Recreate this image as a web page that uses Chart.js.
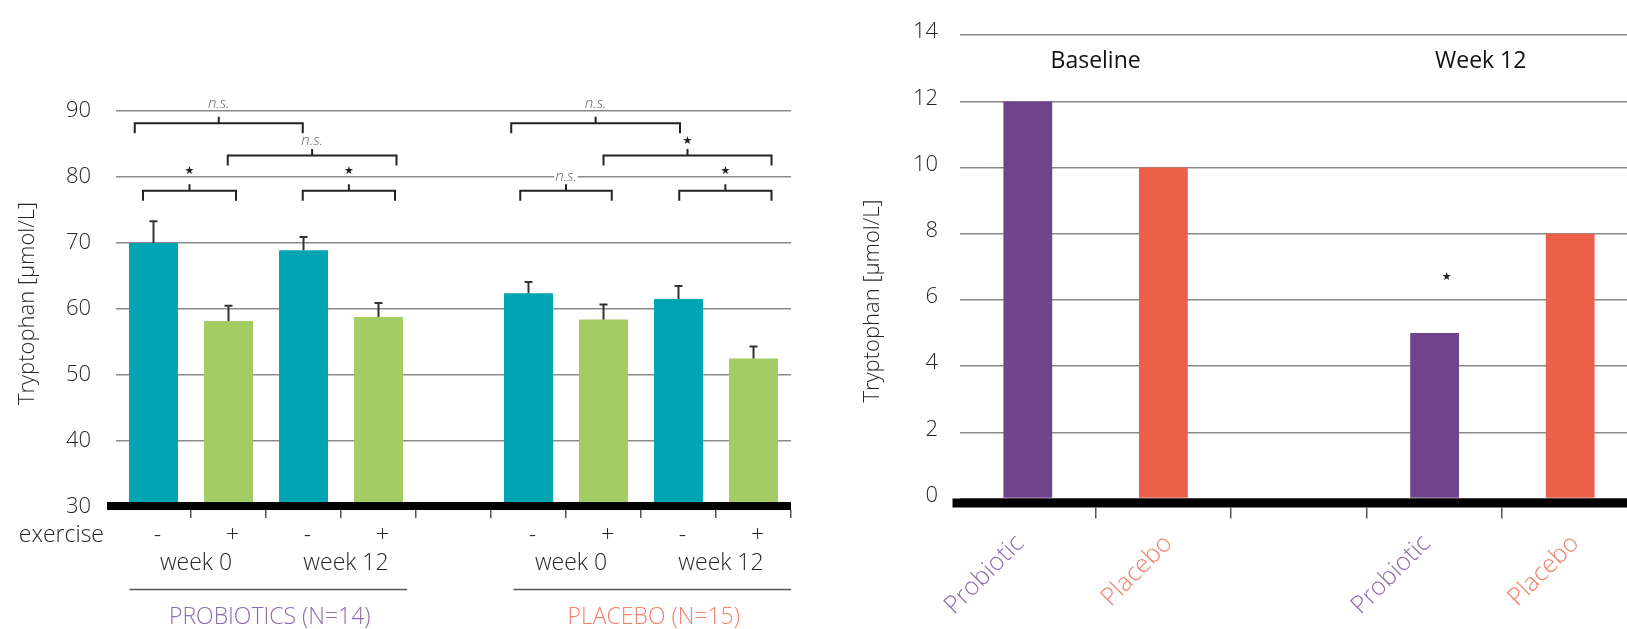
<!DOCTYPE html>
<html><head><meta charset="utf-8">
<script src="https://cdn.jsdelivr.net/npm/chart.js@4.4.1/dist/chart.umd.min.js"></script>
<style>
html,body{margin:0;padding:0;background:#fff;overflow:hidden;width:1627px;height:629px;position:relative;}
#c1{position:absolute;left:0;top:0;}
#c2{position:absolute;left:830px;top:0;}
</style></head><body>
<canvas id="c1" width="830" height="629"></canvas>
<canvas id="c2" width="820" height="629"></canvas>
<script>
// ---------- data: left chart ----------
const leftCategories = ['PRO w0 -', 'PRO w0 +', 'PRO w12 -', 'PRO w12 +', '', 'PLA w0 -', 'PLA w0 +', 'PLA w12 -', 'PLA w12 +'];
const leftMeans  = [70.0, 58.2, 68.9, 58.8, null, 62.4, 58.4, 61.5, 52.5];
const leftErrors = [3.3, 2.3, 2.0, 2.1, null, 1.7, 2.3, 2.0, 1.8];
const exerciseLabels = ['-', '+', '-', '+', '', '-', '+', '-', '+'];
const weekLabels = ['week 0', 'week 12', 'week 0', 'week 12'];
const weekLabelAt = [0.5, 2.5, 5.5, 7.5];
const groupLabels = ['PROBIOTICS (N=14)', 'PLACEBO (N=15)'];
const groupLabelAt = [1.55, 6.67];
const groupLineFrom = [-0.32, 4.80];
const groupLineTo = [3.38, 8.5];
const leftTicks = [30, 40, 50, 60, 70, 80, 90];
// significance brackets: category span, bracket level, label, label level
const bracketFrom  = [-0.25, 0.99, -0.14, 1.99, 4.77, 6.00, 4.89, 7.01];
const bracketTo    = [1.99, 3.24, 1.10, 3.22, 7.02, 8.24, 6.11, 8.24];
const bracketLevel = [88.15, 83.25, 77.9, 77.9, 88.15, 83.25, 77.9, 77.9];
const bracketText  = ['n.s.', 'n.s.', '★', '★', 'n.s.', '★', 'n.s.', '★'];
const bracketTextLevel = [91.05, 85.45, 80.95, 80.95, 91.05, 85.45, 80.0, 80.95];

// ---------- data: right chart ----------
const rightCategories = ['Probiotic', 'Placebo', '', 'Probiotic', 'Placebo'];
const rightValues = [12, 10, null, 5, 8];
const rightTicks = [0, 2, 4, 6, 8, 10, 12, 14];
const periodLabels = ['Baseline', 'Week 12'];
const periodLabelAt = [0.5, 3.34];
const periodLabelLevel = 13.2;
const rightStarAt = 3.09;
const rightStarLevel = 6.7;

// ---------- styles ----------
const TEAL = '#00a5b4', GREEN = '#a3cd62', PURPLE = '#6f448b', SALMON = '#ec604a';
const PURPLE_TXT = '#8e6bb0', SALMON_TXT = '#f27f6b';
const FONT = '"Open Sans", "Noto Sans", sans-serif';
const TXT = '#262626';

function lightFont(size) { return '300 ' + size + 'px ' + FONT; }

const leftPlugin = {
  id: 'leftDeco',
  afterDatasetsDraw(chart) {
    const ctx = chart.ctx, xs = chart.scales.x, ys = chart.scales.y, area = chart.chartArea;
    const meta = chart.getDatasetMeta(0);
    ctx.save();
    // error bars
    ctx.strokeStyle = '#333'; ctx.lineWidth = 2;
    leftMeans.forEach((v, i) => {
      if (v == null) return;
      const bx = meta.data[i].x;
      const y1 = ys.getPixelForValue(v), y2 = ys.getPixelForValue(v + leftErrors[i]);
      ctx.beginPath(); ctx.moveTo(bx, y1); ctx.lineTo(bx, y2);
      ctx.moveTo(bx - 4, y2); ctx.lineTo(bx + 4, y2); ctx.stroke();
    });
    // thick baseline
    const y0 = ys.getPixelForValue(leftTicks[0]) - 1;
    ctx.fillStyle = '#000';
    ctx.fillRect(area.left - 9, y0 - 4, area.right - area.left + 9, 8);
    // tick marks at category boundaries
    ctx.strokeStyle = '#555'; ctx.lineWidth = 1.5;
    for (let i = 0; i < leftCategories.length; i++) {
      const tx = Math.round(xs.getPixelForValue(i + 0.5)) - 0.25;
      ctx.beginPath(); ctx.moveTo(tx, y0 + 4); ctx.lineTo(tx, y0 + 12); ctx.stroke();
    }
    // exercise labels
    ctx.fillStyle = TXT; ctx.font = lightFont(23); ctx.textBaseline = 'middle';
    ctx.textAlign = 'right';
    ctx.fillText('exercise', 104, 535);
    ctx.textAlign = 'center';
    exerciseLabels.forEach((t, i) => { if (t) ctx.fillText(t, xs.getPixelForValue(i) + 4, 535); });
    weekLabels.forEach((t, i) => ctx.fillText(t, xs.getPixelForValue(weekLabelAt[i]) + 5, 563));
    // group lines + labels
    ctx.strokeStyle = '#555'; ctx.lineWidth = 1.5;
    groupLabels.forEach((t, i) => {
      ctx.beginPath();
      ctx.moveTo(xs.getPixelForValue(groupLineFrom[i]), 589.5);
      ctx.lineTo(xs.getPixelForValue(groupLineTo[i]), 589.5);
      ctx.stroke();
      ctx.fillStyle = i === 0 ? PURPLE_TXT : SALMON_TXT;
      ctx.fillText(t, xs.getPixelForValue(groupLabelAt[i]), 617);
    });
    // y title
    ctx.save();
    ctx.translate(28, 303.5); ctx.rotate(-Math.PI / 2);
    ctx.fillStyle = TXT; ctx.font = lightFont(22);
    ctx.fillText('Tryptophan [µmol/L]', 0, 0);
    ctx.restore();
    // brackets
    ctx.strokeStyle = '#222'; ctx.lineWidth = 2;
    bracketFrom.forEach((f, i) => {
      const xa = xs.getPixelForValue(f), xb = xs.getPixelForValue(bracketTo[i]);
      const yb = ys.getPixelForValue(bracketLevel[i]);
      const xm = (xa + xb) / 2;
      ctx.beginPath();
      ctx.moveTo(xa, yb + 10); ctx.lineTo(xa, yb); ctx.lineTo(xb, yb); ctx.lineTo(xb, yb + 10);
      ctx.moveTo(xm, yb); ctx.lineTo(xm, yb - 6.5);
      ctx.stroke();
      const ty = ys.getPixelForValue(bracketTextLevel[i]);
      if (bracketText[i] === 'n.s.') {
        ctx.font = 'italic 300 15px ' + FONT;
        const w = ctx.measureText('n.s.').width;
        ctx.fillStyle = '#fff';
        ctx.fillRect(xm - w / 2 - 1, ty - 3, w + 2, 6);
        ctx.fillStyle = '#666';
        ctx.fillText('n.s.', xm, ty);
      } else {
        ctx.font = '11px "DejaVu Sans", sans-serif';
        ctx.fillStyle = '#222';
        ctx.fillText('★', xm, ty);
      }
    });
    ctx.restore();
  }
};

new Chart(document.getElementById('c1'), {
  type: 'bar',
  data: {
    labels: leftCategories,
    datasets: [{
      data: leftMeans,
      backgroundColor: exerciseLabels.map(e => e === '-' ? TEAL : GREEN),
      barPercentage: 0.653,
      categoryPercentage: 1.0,
      borderWidth: 0
    }]
  },
  options: {
    responsive: false, animation: false, devicePixelRatio: 1,
    layout: { padding: { top: 111, bottom: 122, left: 0, right: 39 } },
    plugins: { legend: { display: false }, tooltip: { enabled: false } },
    scales: {
      x: { display: false },
      y: {
        min: 30, max: 90,
        afterFit: s => { s.width = 116; },
        afterBuildTicks: s => { s.ticks = leftTicks.map(v => ({ value: v })); },
        border: { display: false },
        grid: { color: '#8a8a8a', lineWidth: 1.5, drawTicks: false },
        ticks: { padding: 25, color: TXT, font: { family: FONT, size: 22, weight: '300' } }
      }
    }
  },
  plugins: [leftPlugin]
});

const rightPlugin = {
  id: 'rightDeco',
  afterDatasetsDraw(chart) {
    const ctx = chart.ctx, xs = chart.scales.x, ys = chart.scales.y, area = chart.chartArea;
    ctx.save();
    const y0 = ys.getPixelForValue(0);
    ctx.fillStyle = '#000';
    ctx.fillRect(area.left - 7.5, y0, chart.width - area.left + 8, 9);
    ctx.strokeStyle = '#555'; ctx.lineWidth = 1.5;
    for (let i = 0; i < rightCategories.length - 1; i++) {
      const tx = Math.round(xs.getPixelForValue(i + 0.5)) - 0.25;
      ctx.beginPath(); ctx.moveTo(tx, y0 + 9); ctx.lineTo(tx, y0 + 20); ctx.stroke();
    }
    // rotated category labels
    ctx.font = lightFont(25); ctx.textAlign = 'right'; ctx.textBaseline = 'middle';
    rightCategories.forEach((t, i) => {
      if (!t) return;
      ctx.save();
      ctx.translate(xs.getPixelForValue(i) + (t === 'Probiotic' ? -8 : 5), y0 + 41);
      ctx.rotate(-Math.PI / 4);
      ctx.fillStyle = t === 'Probiotic' ? PURPLE_TXT : SALMON_TXT;
      ctx.fillText(t, 0, 0);
      ctx.restore();
    });
    // period labels
    ctx.textAlign = 'center';
    ctx.font = '400 23px ' + FONT; ctx.fillStyle = '#111';
    periodLabels.forEach((t, i) => ctx.fillText(t, xs.getPixelForValue(periodLabelAt[i]), ys.getPixelForValue(periodLabelLevel)));
    // star
    ctx.font = '11px "DejaVu Sans", sans-serif'; ctx.fillStyle = '#222';
    ctx.fillText('★', xs.getPixelForValue(rightStarAt), ys.getPixelForValue(rightStarLevel));
    // y title
    ctx.save();
    ctx.translate(873 - 830, 301); ctx.rotate(-Math.PI / 2);
    ctx.fillStyle = TXT; ctx.font = lightFont(22);
    ctx.fillText('Tryptophan [µmol/L]', 0, 0);
    ctx.restore();
    ctx.restore();
  }
};

new Chart(document.getElementById('c2'), {
  type: 'bar',
  data: {
    labels: rightCategories,
    datasets: [{
      data: rightValues,
      backgroundColor: rightCategories.map(c => c === 'Probiotic' ? PURPLE : SALMON),
      barPercentage: 0.36,
      categoryPercentage: 1.0,
      borderWidth: 0
    }]
  },
  options: {
    responsive: false, animation: false, devicePixelRatio: 1,
    layout: { padding: { top: 32, bottom: 130.5, left: 0, right: 12 } },
    plugins: { legend: { display: false }, tooltip: { enabled: false } },
    scales: {
      x: { display: false },
      y: {
        min: 0, max: 14,
        afterFit: s => { s.width = 130; },
        afterBuildTicks: s => { s.ticks = rightTicks.map(v => ({ value: v })); },
        border: { display: false },
        grid: { color: '#8a8a8a', lineWidth: 1.5, drawTicks: false },
        ticks: { padding: 22, labelOffset: -3, color: TXT, font: { family: FONT, size: 22, weight: '300' } }
      }
    }
  },
  plugins: [rightPlugin]
});
</script>
</body></html>
